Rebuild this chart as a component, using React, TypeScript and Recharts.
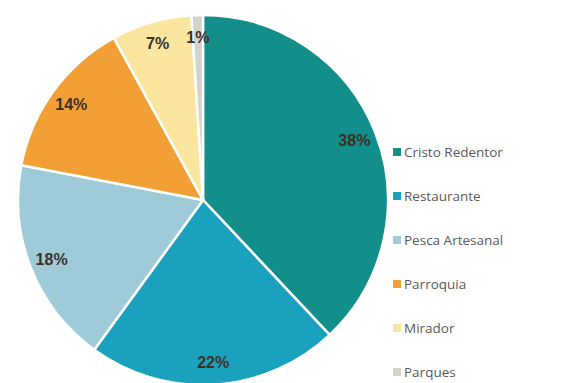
import { PieChart, Pie, Cell, Legend } from 'recharts'

const categories = ['Cristo Redentor', 'Restaurante', 'Pesca Artesanal', 'Parroquia', 'Mirador', 'Parques']
const shares = [38, 22, 18, 14, 7, 1]
const colors = ['#128E8B', '#1AA1BE', '#9FCBD8', '#F2A036', '#FAE69E', '#D3D3CB']

const data = categories.map((name, i) => ({ name, value: shares[i] }))

const RADIAN = Math.PI / 180

function renderLabel(props: any) {
  const { cx, cy, midAngle, outerRadius, value } = props
  const r = outerRadius * 0.88
  const x = cx + r * Math.cos(-midAngle * RADIAN)
  const y = cy + r * Math.sin(-midAngle * RADIAN)
  return (
    <text
      x={x}
      y={y}
      textAnchor="middle"
      dominantBaseline="central"
      fill="#3a3128"
      fontSize={16}
      fontWeight="bold"
      fontFamily="Liberation Sans, Arial, sans-serif"
    >
      {`${value}%`}
    </text>
  )
}

function LegendList() {
  return (
    <div style={{ fontFamily: 'Open Sans, sans-serif', fontSize: 13.5, color: '#5a5a5a' }}>
      {categories.map((name, i) => (
        <div key={name} style={{ display: 'flex', alignItems: 'center', height: 44 }}>
          <span style={{ width: 8, height: 8, background: colors[i], marginRight: 3 }} />
          <span>{name}</span>
        </div>
      ))}
    </div>
  )
}

export default function App() {
  return (
    <div style={{ position: 'absolute', left: 0, top: 0, width: 576, height: 383, background: '#fff', overflow: 'hidden' }}>
      <PieChart width={576} height={383} margin={{ top: 0, right: 0, bottom: 0, left: 0 }}>
        <Pie
          data={data}
          dataKey="value"
          nameKey="name"
          cx={203}
          cy={200}
          outerRadius={185}
          startAngle={90}
          endAngle={-270}
          stroke="#ffffff"
          strokeWidth={2.5}
          label={renderLabel}
          labelLine={false}
          isAnimationActive={false}
        >
          {data.map((d, i) => (
            <Cell key={d.name} fill={colors[i]} />
          ))}
        </Pie>
        <Legend
          content={() => <LegendList />}
          wrapperStyle={{ position: 'absolute', left: 393, top: 130, width: 180 }}
        />
      </PieChart>
    </div>
  )
}
